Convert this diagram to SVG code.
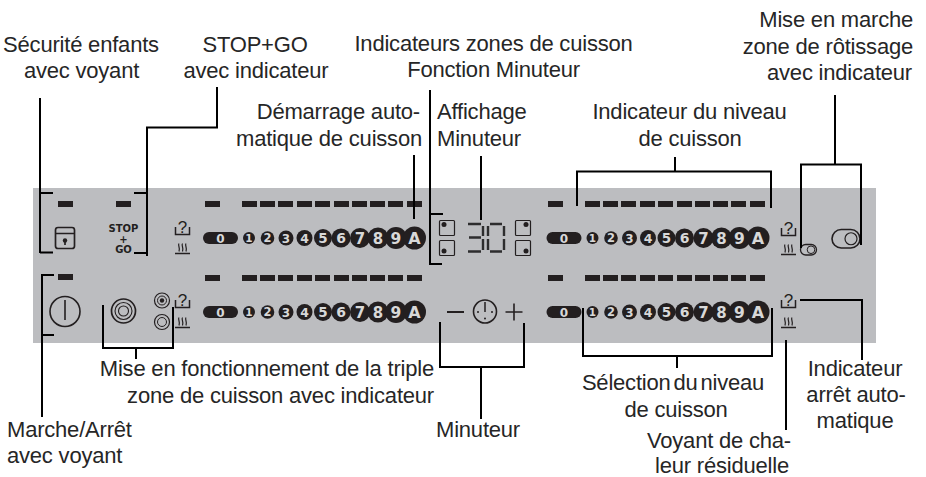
<svg xmlns="http://www.w3.org/2000/svg" xmlns:xlink="http://www.w3.org/1999/xlink" width="926" height="477" viewBox="0 0 926 477">
<style>
.l{font-family:"Liberation Sans",Arial,sans-serif;font-size:22px;letter-spacing:-.2px;fill:#262626}
.m{text-anchor:middle}.e{text-anchor:end}
.c{fill:none;stroke:#000;stroke-width:2}
.d{fill:none;stroke:#231f20;stroke-width:6}
.i{fill:none;stroke:#231f20;stroke-width:1.5}
.k{fill:#231f20}
.n{font-family:"DejaVu Sans",sans-serif;font-weight:700;fill:#d8d8d8;text-anchor:middle}
.q{font-family:"Liberation Sans",sans-serif;font-size:17px;fill:#231f20;text-anchor:middle}
.s{font-family:"DejaVu Sans",sans-serif;font-weight:700;font-size:10px;fill:#231f20;text-anchor:middle}
</style>
<defs>
<g id="heat" class="i"><path d="M0 10.500H15" stroke-width="1.500"/><path d="M4 0.500c-1.500 2 1.500 4 0 8M7.500 0.500c-1.500 2 1.500 4 0 8M11 0.500c-1.500 2 1.500 4 0 8" stroke-width="1.200"/></g>
<path id="ubox" class="i" d="M0.500 6V13.500H14.500V6"/>
<path id="dashes" class="d" d="M205 0h15M242 0h15M260 0h15M278 0h15M297 0h15M315 0h15M334 0h15M352 0h15M370 0h15M388 0h15M407 0h15"/>
</defs>
<rect id="panel" x="33" y="188" width="843" height="155" fill="#bcbdc0"/>

<g id="dash-rows">
<path class="d" d="M58 204h15M116 204h15M58 277h15"/>
<use xlink:href="#dashes" href="#dashes" y="204"/>
<use xlink:href="#dashes" href="#dashes" y="278"/>
<use xlink:href="#dashes" href="#dashes" x="343" y="204"/>
<use xlink:href="#dashes" href="#dashes" x="343" y="278"/>
</g>

<g id="child-lock" class="i"><path d="M55.500 233.500H74.500M55.500 230v16q0 2.500 2.500 2.500h14q2.500 0 2.500-2.500v-16q0-2.500-2.500-2.500h-14q-2.500 0-2.500 2.500z" stroke-width="1.700"/><circle class="k" cx="65" cy="240.500" r="2.200" stroke="none"/><path d="M65 241v4" stroke-width="1.700"/></g>
<g id="stop-go"><text class="s" x="123.500" y="232">STOP</text><text class="s" x="123.500" y="242.500">+</text><text class="s" x="123.500" y="252.500">GO</text></g>
<g id="power" class="i"><circle cx="65" cy="311.500" r="15" stroke-width="1.600"/><path d="M65 300V320" stroke-width="1.600"/></g>
<g id="triple-zone" class="i"><circle cx="123.500" cy="311" r="12" stroke-width="1.700"/><circle cx="123.500" cy="311" r="8.500" stroke-width="1.100"/><circle cx="123.500" cy="311" r="5" stroke-width="1.100"/></g>
<g id="zone-small-1" class="i"><circle cx="162" cy="300.500" r="7.500" stroke-width="1.200"/><circle cx="162" cy="300.500" r="4.500" stroke-width="1"/><circle class="k" cx="162" cy="300.500" r="2.200" stroke="none"/></g>
<g id="zone-small-2" class="i"><circle cx="162" cy="322" r="7.500" stroke-width="1.200"/><circle cx="162" cy="322" r="4.500" stroke-width="1"/></g>

<g id="status-1"><text class="q" x="182.500" y="233">?</text><use xlink:href="#ubox" href="#ubox" x="175" y="221"/><use xlink:href="#heat" href="#heat" x="175" y="243"/></g>
<g id="status-2"><text class="q" x="182.500" y="306">?</text><use xlink:href="#ubox" href="#ubox" x="175" y="294"/><use xlink:href="#heat" href="#heat" x="175" y="317"/></g>
<g id="status-3"><text class="q" x="788.500" y="234">?</text><use xlink:href="#ubox" href="#ubox" x="781" y="222"/><use xlink:href="#heat" href="#heat" x="781" y="244"/></g>
<g id="status-4"><text class="q" x="788.500" y="306">?</text><use xlink:href="#ubox" href="#ubox" x="781" y="294"/><use xlink:href="#heat" href="#heat" x="781" y="317"/></g>

<g id="scale-1">
<rect class="k" x="203" y="232" width="35" height="12" rx="6"/><text class="n" x="220.500" y="242.500" font-size="12">0</text>
<circle class="k" cx="249" cy="238" r="6"/><text class="n" x="249" y="242" font-size="10.500">1</text>
<circle class="k" cx="267.500" cy="238" r="6.800"/><text class="n" x="267.500" y="242.300" font-size="11.500">2</text>
<circle class="k" cx="286" cy="238" r="7.500"/><text class="n" x="286" y="242.500" font-size="12">3</text>
<circle class="k" cx="304.500" cy="238" r="8"/><text class="n" x="304.500" y="242.700" font-size="12.500">4</text>
<circle class="k" cx="323" cy="238" r="9"/><text class="n" x="323" y="243" font-size="13.500">5</text>
<circle class="k" cx="341" cy="238" r="9.500"/><text class="n" x="341" y="243" font-size="14">6</text>
<circle class="k" cx="360" cy="238" r="10"/><text class="n" x="360" y="243.500" font-size="15">7</text>
<circle class="k" cx="378" cy="238" r="10.500"/><text class="n" x="378" y="243.500" font-size="15">8</text>
<circle class="k" cx="396" cy="238" r="11"/><text class="n" x="396" y="243.500" font-size="15.500">9</text>
<circle class="k" cx="414.500" cy="238" r="11.500"/><text class="n" x="414.500" y="243.800" font-size="16">A</text>
</g>
<g id="scale-2" transform="translate(0 74)">
<rect class="k" x="203" y="232" width="35" height="12" rx="6"/><text class="n" x="220.500" y="242.500" font-size="12">0</text>
<circle class="k" cx="249" cy="238" r="6"/><text class="n" x="249" y="242" font-size="10.500">1</text>
<circle class="k" cx="267.500" cy="238" r="6.800"/><text class="n" x="267.500" y="242.300" font-size="11.500">2</text>
<circle class="k" cx="286" cy="238" r="7.500"/><text class="n" x="286" y="242.500" font-size="12">3</text>
<circle class="k" cx="304.500" cy="238" r="8"/><text class="n" x="304.500" y="242.700" font-size="12.500">4</text>
<circle class="k" cx="323" cy="238" r="9"/><text class="n" x="323" y="243" font-size="13.500">5</text>
<circle class="k" cx="341" cy="238" r="9.500"/><text class="n" x="341" y="243" font-size="14">6</text>
<circle class="k" cx="360" cy="238" r="10"/><text class="n" x="360" y="243.500" font-size="15">7</text>
<circle class="k" cx="378" cy="238" r="10.500"/><text class="n" x="378" y="243.500" font-size="15">8</text>
<circle class="k" cx="396" cy="238" r="11"/><text class="n" x="396" y="243.500" font-size="15.500">9</text>
<circle class="k" cx="414.500" cy="238" r="11.500"/><text class="n" x="414.500" y="243.800" font-size="16">A</text>
</g>
<g id="scale-3" transform="translate(343.500 0)">
<rect class="k" x="203" y="232" width="35" height="12" rx="6"/><text class="n" x="220.500" y="242.500" font-size="12">0</text>
<circle class="k" cx="249" cy="238" r="6"/><text class="n" x="249" y="242" font-size="10.500">1</text>
<circle class="k" cx="267.500" cy="238" r="6.800"/><text class="n" x="267.500" y="242.300" font-size="11.500">2</text>
<circle class="k" cx="286" cy="238" r="7.500"/><text class="n" x="286" y="242.500" font-size="12">3</text>
<circle class="k" cx="304.500" cy="238" r="8"/><text class="n" x="304.500" y="242.700" font-size="12.500">4</text>
<circle class="k" cx="323" cy="238" r="9"/><text class="n" x="323" y="243" font-size="13.500">5</text>
<circle class="k" cx="341" cy="238" r="9.500"/><text class="n" x="341" y="243" font-size="14">6</text>
<circle class="k" cx="360" cy="238" r="10"/><text class="n" x="360" y="243.500" font-size="15">7</text>
<circle class="k" cx="378" cy="238" r="10.500"/><text class="n" x="378" y="243.500" font-size="15">8</text>
<circle class="k" cx="396" cy="238" r="11"/><text class="n" x="396" y="243.500" font-size="15.500">9</text>
<circle class="k" cx="414.500" cy="238" r="11.500"/><text class="n" x="414.500" y="243.800" font-size="16">A</text>
</g>
<g id="scale-4" transform="translate(343.500 74)">
<rect class="k" x="203" y="232" width="35" height="12" rx="6"/><text class="n" x="220.500" y="242.500" font-size="12">0</text>
<circle class="k" cx="249" cy="238" r="6"/><text class="n" x="249" y="242" font-size="10.500">1</text>
<circle class="k" cx="267.500" cy="238" r="6.800"/><text class="n" x="267.500" y="242.300" font-size="11.500">2</text>
<circle class="k" cx="286" cy="238" r="7.500"/><text class="n" x="286" y="242.500" font-size="12">3</text>
<circle class="k" cx="304.500" cy="238" r="8"/><text class="n" x="304.500" y="242.700" font-size="12.500">4</text>
<circle class="k" cx="323" cy="238" r="9"/><text class="n" x="323" y="243" font-size="13.500">5</text>
<circle class="k" cx="341" cy="238" r="9.500"/><text class="n" x="341" y="243" font-size="14">6</text>
<circle class="k" cx="360" cy="238" r="10"/><text class="n" x="360" y="243.500" font-size="15">7</text>
<circle class="k" cx="378" cy="238" r="10.500"/><text class="n" x="378" y="243.500" font-size="15">8</text>
<circle class="k" cx="396" cy="238" r="11"/><text class="n" x="396" y="243.500" font-size="15.500">9</text>
<circle class="k" cx="414.500" cy="238" r="11.500"/><text class="n" x="414.500" y="243.800" font-size="16">A</text>
</g>

<g id="zone-indicators" class="i" style="stroke-width:1.200">
<rect x="439.500" y="220.500" width="15" height="15" rx="1"/><circle class="k" cx="444" cy="224.500" r="2.500" stroke="none"/>
<rect x="439.500" y="240.500" width="15" height="15" rx="1"/><circle class="k" cx="444" cy="251" r="2.500" stroke="none"/>
<rect x="515.500" y="220.500" width="15" height="15" rx="1"/><circle class="k" cx="526" cy="224.500" r="2.500" stroke="none"/>
<rect x="515.500" y="240.500" width="15" height="15" rx="1"/><circle class="k" cx="526" cy="251" r="2.500" stroke="none"/>
</g>
<g id="timer-display" fill="none" stroke="#2d2d2e" stroke-width="2.400">
<path d="M468 224H481M469 237.500H481M468 251.500H481M483 226V236M483 239V250"/>
<path d="M490 224H502M490 251.500H502M488 226V236M488 239V250M504 226V236M504 239V250"/>
</g>
<g id="timer-controls" class="i">
<path d="M447 312H464" stroke-width="2"/>
<circle cx="485" cy="311.500" r="11.500" stroke-width="1.600"/><path d="M485 302V312"/>
<circle class="k" cx="478" cy="312" r="1" stroke="none"/><circle class="k" cx="492" cy="312" r="1" stroke="none"/><circle class="k" cx="485" cy="318.500" r="1" stroke="none"/>
<path d="M505.500 312H522.500M514 303.500V320.500" stroke-width="1.600"/>
</g>
<g id="roast-small" class="i"><rect x="800.500" y="244.500" width="16" height="10.500" rx="5.250" stroke-width="1.300"/><circle cx="811" cy="249.750" r="3.800" stroke-width="1"/></g>
<g id="roast-large" class="i"><rect x="832" y="229.500" width="28" height="18.500" rx="9.250" stroke-width="1.600"/><circle cx="851" cy="238.750" r="6" stroke-width="1.200"/></g>

<g id="connectors" class="c">
<path d="M53 193H40M40 98V253M40 252.500H53"/>
<path d="M217 87V128M218 127.500H147M147 126.500V256M134 193H147M134 253H147"/>
<path d="M414 155V219"/>
<path d="M430 90V265M430 214H443M430 264H442"/>
<path d="M481 156V220"/>
<path d="M675 157V171M577 206V171.500H771V208"/>
<path d="M835 95V164.500M801 248V164.500H861V245"/>
<path d="M54 275H42V417M42 335H54"/>
<path d="M103 305V348H173V307M136 348V359"/>
<path d="M440 322V367H524V323M481 367V419"/>
<path d="M583 308V356H772V308M677 356V368"/>
<path d="M786 340V430"/>
<path d="M800 300H862V360"/>
</g>

<g id="label-child-lock"><text class="l m" x="81" y="52">Sécurité enfants</text><text class="l m" x="81.500" y="78">avec voyant</text></g>
<g id="label-stop-go"><text class="l m" x="255" y="52">STOP+GO</text><text class="l m" x="256" y="78">avec indicateur</text></g>
<g id="label-zones"><text class="l m" x="493.500" y="51">Indicateurs zones de cuisson</text><text class="l m" x="493.500" y="77">Fonction Minuteur</text></g>
<g id="label-auto-start"><text class="l e" x="420" y="119">Démarrage auto-</text><text class="l e" x="422" y="146">matique de cuisson</text></g>
<g id="label-display"><text class="l" x="437" y="119">Affichage</text><text class="l" x="437" y="146">Minuteur</text></g>
<g id="label-level"><text class="l m" x="689.500" y="119">Indicateur du niveau</text><text class="l m" x="690" y="146">de cuisson</text></g>
<g id="label-roast"><text class="l e" x="913" y="27">Mise en marche</text><text class="l e" x="913" y="54">zone de rôtissage</text><text class="l e" x="912" y="80">avec indicateur</text></g>
<g id="label-triple"><text class="l e" x="434" y="376">Mise en fonctionnement de la triple</text><text class="l e" x="434" y="403">zone de cuisson avec indicateur</text></g>
<g id="label-power"><text class="l" x="7" y="437">Marche/Arrêt</text><text class="l" x="7" y="463">avec voyant</text></g>
<g id="label-timer"><text class="l m" x="478" y="437">Minuteur</text></g>
<g id="label-selection"><text class="l m" x="673" y="390" word-spacing="-3">Sélection du niveau</text><text class="l m" x="676" y="417">de cuisson</text></g>
<g id="label-residual"><text class="l e" x="791" y="448">Voyant de cha-</text><text class="l e" x="789" y="473">leur résiduelle</text></g>
<g id="label-auto-off"><text class="l m" x="855" y="376">Indicateur</text><text class="l m" x="856" y="402">arrêt auto-</text><text class="l m" x="855" y="428">matique</text></g>
</svg>
